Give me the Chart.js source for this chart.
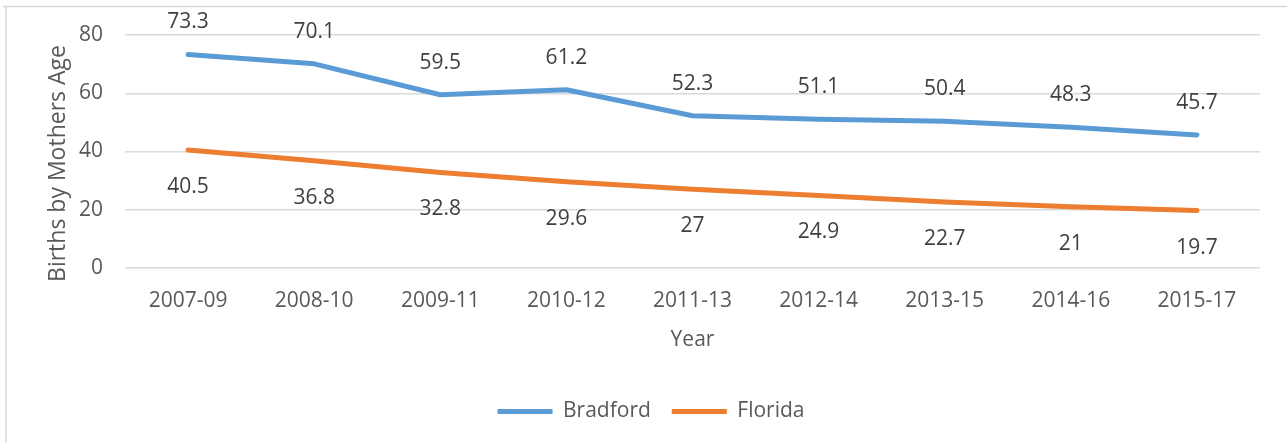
<!DOCTYPE html>
<html>
<head>
<meta charset="utf-8">
<script src="https://cdn.jsdelivr.net/npm/chart.js@4"></script>
<style>
  html, body { margin: 0; padding: 0; background: #fff; }
  #wrap { width: 1287px; height: 442px; }
</style>
</head>
<body>
<div id="wrap"><canvas id="myChart" width="1287" height="442"></canvas></div>
<script>
// chart data
const years = ['2007-09', '2008-10', '2009-11', '2010-12', '2011-13', '2012-14', '2013-15', '2014-16', '2015-17'];
const bradford = [73.3, 70.1, 59.5, 61.2, 52.3, 51.1, 50.4, 48.3, 45.7];
const florida = [40.5, 36.8, 32.8, 29.6, 27, 24.9, 22.7, 21, 19.7];
const yTicks = [0, 20, 40, 60, 80];
const yTitle = 'Births by Mothers Age';

const FONT = '"Open Sans", "Liberation Sans", sans-serif';

// light grey frame round the chart, like the Excel chart box
const frame = {
    id: 'frame',
    beforeDraw(chart) {
        const ctx = chart.ctx;
        ctx.save();
        ctx.fillStyle = '#fff';
        ctx.fillRect(0, 0, chart.width, chart.height);
        ctx.strokeStyle = '#d9d9d9';
        ctx.lineWidth = 1.5;
        ctx.beginPath();
        ctx.moveTo(3, 6.5);
        ctx.lineTo(chart.width, 6.5);
        ctx.moveTo(6, 6);
        ctx.lineTo(6, chart.height);
        ctx.stroke();
        ctx.restore();
    }
};

// value labels: above the blue line, below the orange one
// plus the rotated y title (Excel puts it a bit lower than centre)
const valueLabels = {
    id: 'valueLabels',
    afterDatasetsDraw(chart) {
        const ctx = chart.ctx;
        ctx.save();
        ctx.font = '21px ' + FONT;
        ctx.fillStyle = '#404040';
        ctx.textAlign = 'center';
        ctx.textBaseline = 'middle';
        chart.data.datasets.forEach((ds, i) => {
            const meta = chart.getDatasetMeta(i);
            const shift = i === 0 ? -32 : 37;
            meta.data.forEach((pt, j) => {
                ctx.fillText(String(ds.data[j]), pt.x, pt.y + shift);
            });
        });
        const area = chart.chartArea;
        ctx.translate(58, (area.top + area.bottom) / 2 + 12);
        ctx.rotate(-Math.PI / 2);
        ctx.font = '23px ' + FONT;
        ctx.fillStyle = '#595959';
        ctx.fillText(yTitle, 0, 0);
        ctx.restore();
    }
};

const data = {
    labels: years,
    datasets: [{
        label: 'Bradford',
        data: bradford,
        borderColor: '#5b9bd5',
        backgroundColor: '#5b9bd5',
        borderWidth: 5,
        borderCapStyle: 'round',
        borderJoinStyle: 'round',
        pointRadius: 0,
        pointStyle: 'line',
        tension: 0
    }, {
        label: 'Florida',
        data: florida,
        borderColor: '#ed7d31',
        backgroundColor: '#ed7d31',
        borderWidth: 5,
        borderCapStyle: 'round',
        borderJoinStyle: 'round',
        pointRadius: 0,
        pointStyle: 'line',
        tension: 0
    }]
};

const config = {
    type: 'line',
    data: data,
    plugins: [frame, valueLabels],
    options: {
        responsive: false,
        animation: false,
        layout: { padding: { top: 35, bottom: 10, left: 21, right: 6 } },
        plugins: {
            legend: {
                position: 'bottom',
                labels: {
                    usePointStyle: true,
                    pointStyleWidth: 55,
                    padding: 21,
                    color: '#595959',
                    font: { family: FONT, size: 21 }
                }
            },
            tooltip: { enabled: false }
        },
        scales: {
            x: {
                offset: true,
                grid: { display: false, drawTicks: false },
                border: { display: false },
                ticks: { color: '#595959', font: { family: FONT, size: 21 }, padding: 20, maxRotation: 0 },
                title: { display: true, text: 'Year', color: '#595959', font: { family: FONT, size: 21 }, padding: { top: 0, bottom: 27 } },
                afterFit(scale) { scale.height = 112; }
            },
            y: {
                min: 0,
                max: 80,
                afterBuildTicks(scale) { scale.ticks = yTicks.map(v => ({ value: v })); },
                grid: { color: '#d9d9d9', lineWidth: 1.5, drawTicks: false },
                border: { display: false },
                ticks: { color: '#595959', font: { family: FONT, size: 21 }, padding: 22 },
                title: { display: false },
                afterFit(scale) { scale.width = 104; }
            },
            // empty right-hand box, only to keep the plot clear of the right edge
            spacer: {
                position: 'right',
                min: 0,
                max: 80,
                grid: { display: false, drawTicks: false },
                border: { display: false },
                ticks: { display: false },
                afterFit(scale) { scale.width = 21; }
            }
        }
    }
};

const myChart = new Chart(document.getElementById('myChart'), config);
</script>
</body>
</html>
